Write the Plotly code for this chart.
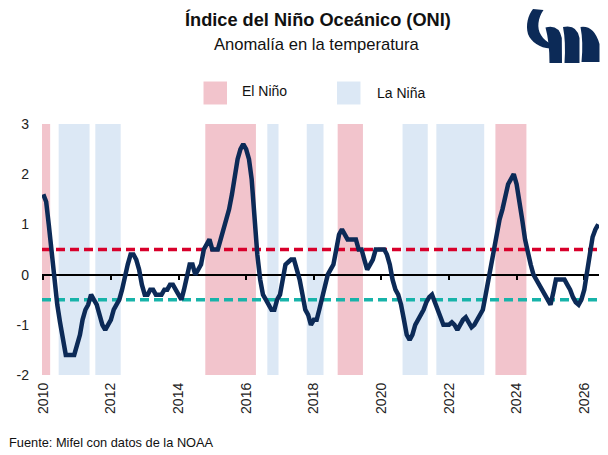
import pandas as pd
import plotly.graph_objects as go

# ---------------- data ----------------
start_month = "2010-01-01"
oni_values = [
    # 2010
    1.6, 1.45, 1.0, 0.4, -0.2, -0.6, -0.95, -1.3, -1.6, -1.6, -1.6, -1.6,
    # 2011
    -1.4, -1.2, -0.9, -0.7, -0.6, -0.4, -0.5, -0.6, -0.8, -1.0, -1.1, -1.0,
    # 2012
    -0.9, -0.7, -0.6, -0.5, -0.3, 0.0, 0.2, 0.4, 0.4, 0.3, 0.1, -0.2,
    # 2013
    -0.4, -0.4, -0.3, -0.3, -0.4, -0.4, -0.4, -0.3, -0.3, -0.2, -0.2, -0.3,
    # 2014
    -0.4, -0.5, -0.3, 0.0, 0.2, 0.2, 0.0, 0.1, 0.2, 0.5, 0.6, 0.7,
    # 2015
    0.5, 0.5, 0.5, 0.7, 0.9, 1.1, 1.3, 1.6, 2.0, 2.3, 2.5, 2.6,
    # 2016
    2.5, 2.3, 1.9, 1.1, 0.4, -0.1, -0.4, -0.5, -0.6, -0.7, -0.7, -0.5,
    # 2017
    -0.4, -0.1, 0.2, 0.25, 0.3, 0.3, 0.1, -0.1, -0.4, -0.7, -0.8, -1.0,
    # 2018
    -0.9, -0.9, -0.7, -0.45, -0.2, 0.0, 0.1, 0.2, 0.5, 0.8, 0.9, 0.8,
    # 2019
    0.7, 0.7, 0.7, 0.7, 0.5, 0.5, 0.3, 0.1, 0.2, 0.3, 0.5, 0.5,
    # 2020
    0.5, 0.5, 0.4, 0.2, -0.1, -0.3, -0.4, -0.6, -0.9, -1.2, -1.3, -1.2,
    # 2021
    -1.0, -0.9, -0.8, -0.7, -0.55, -0.45, -0.4, -0.55, -0.75, -0.85, -1.0, -1.0,
    # 2022
    -1.0, -0.95, -1.0, -1.1, -1.0, -0.9, -0.85, -0.95, -1.05, -1.0, -0.9, -0.8,
    # 2023
    -0.7, -0.4, -0.1, 0.2, 0.5, 0.8, 1.1, 1.3, 1.6, 1.8, 1.9, 2.0,
    # 2024
    1.8, 1.5, 1.1, 0.7, 0.4, 0.2, 0.0, -0.1, -0.2, -0.3, -0.4, -0.5,
    # 2025
    -0.6, -0.35, -0.1, -0.1, -0.1, -0.1, -0.2, -0.3, -0.45, -0.55, -0.6, -0.5,
    # 2026
    -0.3, 0.05, 0.45, 0.75, 0.9, 1.0,
]

el_nino_start = ["2010-01-01", "2014-11-01", "2018-10-01", "2023-06-01"]
el_nino_end = ["2010-03-01", "2016-04-01", "2019-06-01", "2024-04-01"]
la_nina_start = ["2010-07-01", "2011-08-01", "2016-09-01", "2017-11-01", "2020-09-01", "2021-09-01"]
la_nina_end = ["2011-05-01", "2012-04-01", "2016-12-01", "2018-04-01", "2021-05-01", "2023-01-01"]

thresholds = [0.5, -0.5]
y_ticks = [3, 2, 1, 0, -1, -2]

title_text = "Índice del Niño Oceánico (ONI)"
subtitle_text = "Anomalía en la temperatura"
source_text = "Fuente: Mifel con datos de la NOAA"
legend_labels = ["El Niño", "La Niña"]

# ---------------- styles ----------------
OFF = 8  # page body margin
W, H = 600, 447
ML, MR, MT, MB = 34, 9, 116, 80
FONT = "Arial, 'Liberation Sans', sans-serif"
NAVY = "#0c2a57"
PINK = "#f2c4cc"
LBLUE = "#dce8f5"
RED = "#d8002b"
TEAL = "#17b3a9"
x_range = ["2009-12-18", "2026-06-09"]

months = pd.date_range(start_month, periods=len(oni_values), freq="MS")

pw = W - ML - MR
ph = H - MT - MB


def px(X):
    return (X - OFF - ML) / pw


def py(Y):
    return (H - MB - (Y - OFF)) / ph


half = pd.Timedelta(days=15)
shapes = []
for s, e in zip(el_nino_start, el_nino_end):
    shapes.append(dict(type="rect", xref="x", yref="paper",
                       x0=pd.Timestamp(s) - half, x1=pd.Timestamp(e) + half,
                       y0=0, y1=1, fillcolor=PINK, line=dict(width=0), layer="below"))
for s, e in zip(la_nina_start, la_nina_end):
    shapes.append(dict(type="rect", xref="x", yref="paper",
                       x0=pd.Timestamp(s) - half, x1=pd.Timestamp(e) + half,
                       y0=0, y1=1, fillcolor=LBLUE, line=dict(width=0), layer="below"))
for t, c in zip(thresholds, [RED, TEAL]):
    shapes.append(dict(type="line", xref="paper", yref="y", x0=0, x1=1, y0=t, y1=t,
                       line=dict(color=c, width=3.5, dash="9px,5px"), layer="below"))

# legend squares (manual, large)
for X0, col in zip([203.5, 337], [PINK, LBLUE]):
    shapes.append(dict(type="rect", xref="paper", yref="paper",
                       x0=px(X0), x1=px(X0 + 23.5), y0=py(104.5), y1=py(81.5),
                       fillcolor=col, line=dict(width=0)))


# logo (drawn as paths, screen-pixel coordinates converted to paper)
def path(cmds):
    out = []
    for c in cmds:
        if isinstance(c, str):
            out.append(c)
        else:
            out.append(f"{px(c[0]):.5f},{py(c[1]):.5f}")
    return " ".join(out)


logo_paths = [
    ["M", (533, 9), "L", (543.5, 10), "C", (538, 18), (536.5, 28), (541, 35),
     "C", (543.5, 39.5), (547, 42), (551, 43.5), "L", (550, 48.5),
     "C", (540, 48), (531, 42), (528, 34), "C", (525.5, 25), (528, 15), (533, 9), "Z"],
    ["M", (545.5, 27.5), "Q", (559, 24), (561.8, 38), "L", (562, 63), "L", (549.5, 63),
     "Q", (549.5, 42), (545.5, 27.5), "Z"],
    ["M", (563, 27), "Q", (577, 24), (579.5, 38), "L", (579.5, 63), "L", (564.5, 63),
     "Q", (566, 42), (563, 27), "Z"],
    ["M", (580.5, 27), "Q", (594, 25), (599.5, 44), "L", (599.5, 62), "L", (581.5, 62),
     "Q", (583.5, 42), (580.5, 27), "Z"],
]
for lp in logo_paths:
    shapes.append(dict(type="path", xref="paper", yref="paper", path=path(lp),
                       fillcolor=NAVY, line=dict(width=0)))

annotations = [
    dict(text=f"<b>{title_text}</b>", x=px(317.5), y=py(20), xref="paper", yref="paper",
         showarrow=False, xanchor="center", yanchor="middle",
         font=dict(family=FONT, size=18.2, color="#111111")),
    dict(text=subtitle_text, x=px(317), y=py(44), xref="paper", yref="paper",
         showarrow=False, xanchor="center", yanchor="middle",
         font=dict(family=FONT, size=16.6, color="#111111")),
    dict(text=source_text, x=px(6.5), y=py(442), xref="paper", yref="paper",
         showarrow=False, xanchor="left", yanchor="middle",
         font=dict(family=FONT, size=12.8, color="#111111")),
    dict(text=legend_labels[0], x=px(240), y=py(91.5), xref="paper", yref="paper",
         showarrow=False, xanchor="left", yanchor="middle",
         font=dict(family=FONT, size=14, color="#111111")),
    dict(text=legend_labels[1], x=px(375), y=py(93), xref="paper", yref="paper",
         showarrow=False, xanchor="left", yanchor="middle",
         font=dict(family=FONT, size=14, color="#111111")),
]

fig = go.Figure()
fig.add_trace(go.Scatter(x=months, y=oni_values, mode="lines",
                         line=dict(color=NAVY, width=4.5), showlegend=False,
                         hoverinfo="x+y"))
# helper trace so the bottom label axis is drawn
fig.add_trace(go.Scatter(x=[months[0]], y=[None], xaxis="x2", mode="lines",
                         showlegend=False, hoverinfo="skip"))

fig.update_layout(
    width=W, height=H,
    margin=dict(l=ML, r=MR, t=MT, b=MB),
    paper_bgcolor="white", plot_bgcolor="white",
    showlegend=False,
    font=dict(family=FONT, size=14, color="#222222"),
    xaxis=dict(type="date", range=x_range, anchor="free", position=0.4,
               showline=True, linecolor="black", linewidth=1.8,
               ticks="outside", ticklen=4, tickwidth=1.5, tickcolor="black",
               tick0="2010-01-01", dtick="M24", showticklabels=False,
               showgrid=False, zeroline=False, layer="below traces"),
    xaxis2=dict(type="date", range=x_range, overlaying="x", anchor="y", side="bottom",
                tick0="2010-01-01", dtick="M24", tickformat="%Y", tickangle=-90,
                showline=False, showgrid=False, zeroline=False, ticks="",
                ticklabelstandoff=4,
                tickfont=dict(family=FONT, size=14, color="#222222")),
    yaxis=dict(range=[-2, 3], tickvals=y_ticks, ticktext=[str(v) for v in y_ticks],
               showgrid=False, zeroline=False, showline=False, ticks="",
               ticklabelstandoff=12,
               tickfont=dict(family=FONT, size=14, color="#222222")),
    shapes=shapes,
    annotations=annotations,
)

fig.write_html("out.html")
